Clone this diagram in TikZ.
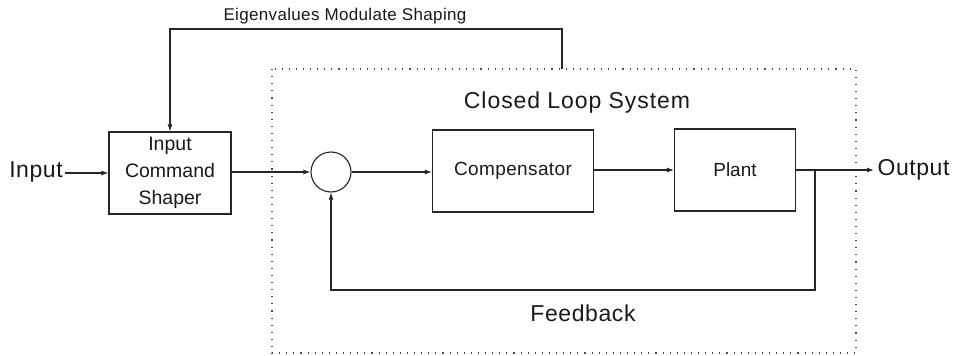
\documentclass[tikz,border=0pt]{standalone}
\usepackage{fontspec}
\setmainfont{Liberation Sans}
\usetikzlibrary{arrows.meta}
\begin{document}
\begin{tikzpicture}[x=1pt,y=-1pt,
  line width=1.1pt, draw=black!85, text=black!90,
  block/.style={draw, rectangle, minimum height=82pt, inner sep=0pt},
  junction/.style={draw, circle, minimum size=40pt, inner sep=0pt},
  wire/.style={-{Latex[length=7pt,width=5pt]}},
  bigtext/.style={font=\fontsize{23}{27}\selectfont\addfontfeature{LetterSpace=2.5}, inner sep=0pt},
  frame/.style={dash pattern=on 1.1pt off 6pt, line width=1.1pt, draw=black!70}]
\useasboundingbox (0,0) rectangle (954,356);

% closed-loop boundary
\draw[frame] (272,69) rectangle (856,353);

% blocks
\node[block, minimum width=122pt, align=center,
      font=\fontsize{19.5}{27}\selectfont] (shaper) at (170,173) {Input\\Command\\Shaper};
\node[junction] (sum) at (331,172) {};
\node[block, minimum width=161pt,
      font=\fontsize{19}{22}\selectfont\addfontfeature{LetterSpace=2}] (comp) at (513,171) {Compensator};
\node[block, minimum width=121pt, font=\fontsize{19}{22}\selectfont] (plant) at (735,170) {Plant};

% labels
\node[bigtext] (in) at (36,172) {Input};
\node[bigtext, anchor=west] (out) at (877,170) {Output};
\node[font=\fontsize{23}{27}\selectfont\addfontfeature{LetterSpace=4}, inner sep=0pt] (cls) at (577,103) {Closed Loop System};
\node[bigtext] (fbl) at (583,313) {Feedback};
\node[font=\fontsize{17}{20}\selectfont\addfontfeature{LetterSpace=2}, inner sep=0pt] (eig) at (345,16) {Eigenvalues Modulate Shaping};

% tap points
\coordinate (tap) at (562,69);
\coordinate (fb) at (815,170);

% signal path
\draw[wire] ([xshift=2pt]in.east |- shaper.west) -- (shaper.west);
\draw[wire] (shaper.east |- sum) -- (sum.west);
\draw[wire] (sum.east) -- (comp.west |- sum.east);
\draw[wire] (comp.east |- plant) -- (plant.west);
\draw[wire] (plant.east) -- ([xshift=-3pt]out.west);

% feedback loop
\draw[wire] (fb) -- (815,290) -| (sum.south);

% eigenvalue modulation path
\draw[wire] (tap) -- (562,29) -| (shaper.north);
\end{tikzpicture}
\end{document}
